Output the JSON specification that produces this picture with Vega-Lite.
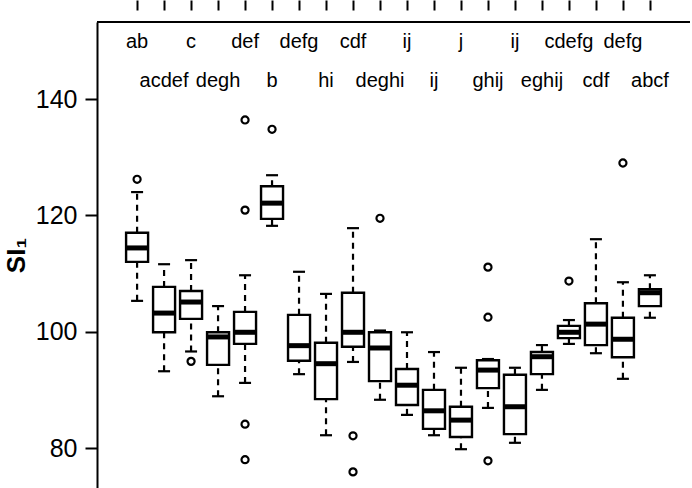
{
  "$schema": "https://vega.github.io/schema/vega-lite/v6.json",
  "width": 593,
  "height": 466,
  "autosize": {"type": "none"},
  "padding": {"left": 97, "top": 22, "right": 2, "bottom": 0},
  "background": "white",
  "config": {
    "view": {"stroke": null},
    "font": "Liberation Sans"
  },
  "datasets": {
    "boxes": [
      {"group": 1, "lo": 105.3, "q1": 112.0, "med": 114.4, "q3": 117.0, "hi": 124.0},
      {"group": 2, "lo": 93.2, "q1": 99.9, "med": 103.2, "q3": 107.7, "hi": 111.6},
      {"group": 3, "lo": 96.6, "q1": 102.2, "med": 105.1, "q3": 107.0, "hi": 112.3},
      {"group": 4, "lo": 88.9, "q1": 94.3, "med": 99.1, "q3": 99.9, "hi": 104.4},
      {"group": 5, "lo": 91.2, "q1": 97.9, "med": 99.9, "q3": 103.4, "hi": 109.7},
      {"group": 6, "lo": 118.2, "q1": 119.4, "med": 122.1, "q3": 125.0, "hi": 126.9},
      {"group": 7, "lo": 92.7, "q1": 95.0, "med": 97.6, "q3": 102.9, "hi": 110.3},
      {"group": 8, "lo": 82.2, "q1": 88.4, "med": 94.5, "q3": 98.1, "hi": 106.5},
      {"group": 9, "lo": 94.8, "q1": 97.4, "med": 99.9, "q3": 106.7, "hi": 117.8},
      {"group": 10, "lo": 88.3, "q1": 91.5, "med": 97.2, "q3": 99.9, "hi": 100.2},
      {"group": 11, "lo": 85.7, "q1": 87.4, "med": 90.8, "q3": 93.6, "hi": 99.9},
      {"group": 12, "lo": 82.2, "q1": 83.3, "med": 86.4, "q3": 90.0, "hi": 96.5},
      {"group": 13, "lo": 79.8, "q1": 81.9, "med": 84.8, "q3": 87.1, "hi": 93.8},
      {"group": 14, "lo": 86.9, "q1": 90.3, "med": 93.4, "q3": 95.1, "hi": 95.3},
      {"group": 15, "lo": 80.9, "q1": 82.4, "med": 87.1, "q3": 92.6, "hi": 93.8},
      {"group": 16, "lo": 90.0, "q1": 92.7, "med": 95.7, "q3": 96.5, "hi": 97.7},
      {"group": 17, "lo": 97.9, "q1": 98.9, "med": 99.9, "q3": 101.0, "hi": 102.0},
      {"group": 18, "lo": 96.3, "q1": 97.7, "med": 101.3, "q3": 104.9, "hi": 115.9},
      {"group": 19, "lo": 91.9, "q1": 95.6, "med": 98.7, "q3": 102.4, "hi": 108.5},
      {"group": 20, "lo": 102.4, "q1": 104.4, "med": 106.7, "q3": 107.3, "hi": 109.7}
    ],
    "outliers": [
      {"group": 1, "value": 126.2},
      {"group": 3, "value": 94.9},
      {"group": 5, "value": 136.4},
      {"group": 5, "value": 120.9},
      {"group": 5, "value": 84.1},
      {"group": 5, "value": 78.0},
      {"group": 6, "value": 134.8},
      {"group": 9, "value": 82.1},
      {"group": 9, "value": 75.9},
      {"group": 10, "value": 119.5},
      {"group": 14, "value": 111.1},
      {"group": 14, "value": 102.5},
      {"group": 14, "value": 77.8},
      {"group": 17, "value": 108.7},
      {"group": 19, "value": 129.0}
    ],
    "letters": [
      {"group": 1, "label": "ab", "row": 1},
      {"group": 2, "label": "acdef", "row": 2},
      {"group": 3, "label": "c", "row": 1},
      {"group": 4, "label": "degh", "row": 2},
      {"group": 5, "label": "def", "row": 1},
      {"group": 6, "label": "b", "row": 2},
      {"group": 7, "label": "defg", "row": 1},
      {"group": 8, "label": "hi", "row": 2},
      {"group": 9, "label": "cdf", "row": 1},
      {"group": 10, "label": "deghi", "row": 2},
      {"group": 11, "label": "ij", "row": 1},
      {"group": 12, "label": "ij", "row": 2},
      {"group": 13, "label": "j", "row": 1},
      {"group": 14, "label": "ghij", "row": 2},
      {"group": 15, "label": "ij", "row": 1},
      {"group": 16, "label": "eghij", "row": 2},
      {"group": 17, "label": "cdefg", "row": 1},
      {"group": 18, "label": "cdf", "row": 2},
      {"group": 19, "label": "defg", "row": 1},
      {"group": 20, "label": "abcf", "row": 2}
    ]
  },
  "encoding": {
    "x": {
      "field": "group",
      "type": "quantitative",
      "scale": {"domain": [-0.3, 21.3], "nice": false, "zero": false},
      "axis": {
        "orient": "top",
        "offset": 12,
        "values": [1,2,3,4,5,6,7,8,9,10,11,12,13,14,15,16,17,18,19,20],
        "labels": false,
        "domain": false,
        "grid": false,
        "ticks": true,
        "tickSize": 10,
        "tickWidth": 2,
        "tickColor": "black",
        "title": null
      }
    }
  },
  "layer": [
    {
      "data": {"name": "boxes"},
      "mark": {"type": "rule", "strokeDash": [6, 5], "strokeWidth": 2.2, "color": "black"},
      "encoding": {
        "y": {
          "field": "q3",
          "type": "quantitative",
          "scale": {"domain": [73.13, 153.24], "nice": false, "zero": false},
          "axis": {
            "values": [80, 100, 120, 140],
            "grid": false,
            "domain": true,
            "domainColor": "black",
            "domainWidth": 2,
            "tickColor": "black",
            "tickWidth": 2,
            "tickSize": 12,
            "labelFontSize": 25,
            "labelColor": "black",
            "labelPadding": 8,
            "labelFont": "Liberation Sans",
            "title": "SI₁",
            "titleFontSize": 26,
            "titleFontWeight": "bold",
            "titleColor": "black",
            "titleFont": "Liberation Sans",
            "titlePadding": 6
          }
        },
        "y2": {"field": "hi"}
      }
    },
    {
      "data": {"name": "boxes"},
      "mark": {"type": "rule", "strokeDash": [6, 5], "strokeWidth": 2.2, "color": "black"},
      "encoding": {
        "y": {"field": "lo", "type": "quantitative"},
        "y2": {"field": "q1"}
      }
    },
    {
      "data": {"name": "boxes"},
      "mark": {"type": "tick", "orient": "horizontal", "size": 12, "thickness": 2.2, "color": "black", "opacity": 1},
      "encoding": {"y": {"field": "hi", "type": "quantitative"}}
    },
    {
      "data": {"name": "boxes"},
      "mark": {"type": "tick", "orient": "horizontal", "size": 12, "thickness": 2.2, "color": "black", "opacity": 1},
      "encoding": {"y": {"field": "lo", "type": "quantitative"}}
    },
    {
      "data": {"name": "boxes"},
      "mark": {"type": "bar", "size": 22, "fill": "white", "stroke": "black", "strokeWidth": 2.4},
      "encoding": {
        "y": {"field": "q1", "type": "quantitative"},
        "y2": {"field": "q3"}
      }
    },
    {
      "data": {"name": "boxes"},
      "mark": {"type": "tick", "orient": "horizontal", "size": 22, "thickness": 5, "color": "black", "opacity": 1},
      "encoding": {"y": {"field": "med", "type": "quantitative"}}
    },
    {
      "data": {"name": "outliers"},
      "mark": {"type": "point", "shape": "circle", "filled": false, "size": 50, "strokeWidth": 2.2, "color": "black", "opacity": 1},
      "encoding": {"y": {"field": "value", "type": "quantitative"}}
    },
    {
      "data": {"name": "letters"},
      "transform": [{"filter": "datum.row == 1"}],
      "mark": {"type": "text", "fontSize": 20, "font": "Liberation Sans", "color": "black", "baseline": "middle", "align": "center"},
      "encoding": {
        "y": {"datum": 149.8, "type": "quantitative"},
        "text": {"field": "label", "type": "nominal"}
      }
    },
    {
      "data": {"name": "letters"},
      "transform": [{"filter": "datum.row == 2"}],
      "mark": {"type": "text", "fontSize": 20, "font": "Liberation Sans", "color": "black", "baseline": "middle", "align": "center"},
      "encoding": {
        "y": {"datum": 143.1, "type": "quantitative"},
        "text": {"field": "label", "type": "nominal"}
      }
    },
    {
      "data": {"values": [{"edge": "top"}]},
      "mark": {"type": "rule", "strokeWidth": 2, "color": "black"},
      "encoding": {"y": {"datum": 153.24, "type": "quantitative"}, "x": null}
    },
    {
      "data": {"values": [{"edge": "right"}]},
      "mark": {"type": "rule", "strokeWidth": 2, "color": "black"},
      "encoding": {"x": {"datum": 21.3, "type": "quantitative"}}
    }
  ]
}
